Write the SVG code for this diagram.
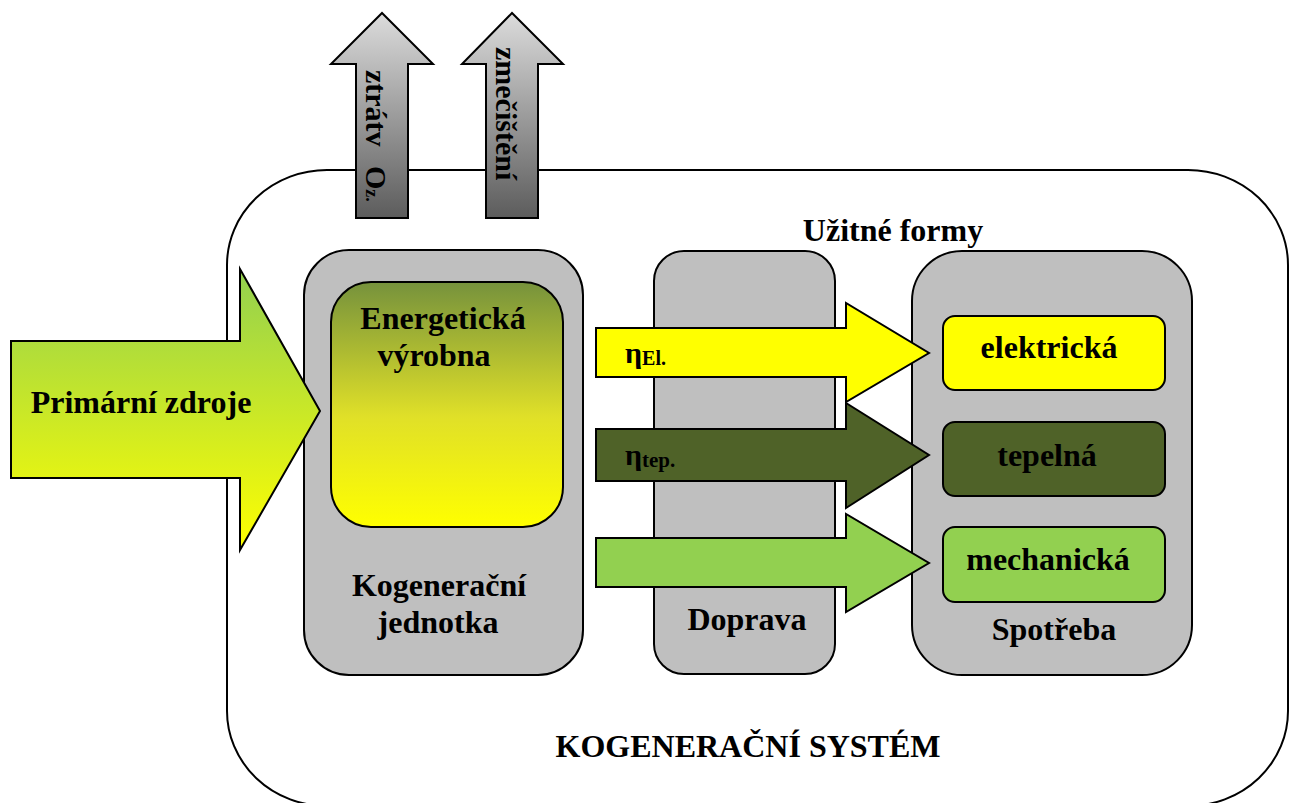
<svg xmlns="http://www.w3.org/2000/svg" width="1294" height="803" viewBox="0 0 1294 803">
  <defs>
    <linearGradient id="gPrimary" x1="0" y1="0" x2="0" y2="1">
      <stop offset="0" stop-color="#92D050"/>
      <stop offset="1" stop-color="#FFFF00"/>
    </linearGradient>
    <linearGradient id="gPlant" x1="0" y1="0" x2="0" y2="1">
      <stop offset="0" stop-color="#76923C"/>
      <stop offset="0.55" stop-color="#E0E028"/>
      <stop offset="1" stop-color="#FFFF00"/>
    </linearGradient>
    <linearGradient id="gLoss" x1="0" y1="0" x2="0" y2="1">
      <stop offset="0" stop-color="#DCDCDC"/>
      <stop offset="1" stop-color="#5C5C5C"/>
    </linearGradient>
    <style>
      .ln { stroke: #000; stroke-width: 2; stroke-linejoin: miter; }
      .box { fill: #BFBFBF; stroke: #000; stroke-width: 2; }
      .t { font-family: "Liberation Serif", "Times New Roman", serif; font-weight: bold; fill: #000; }
      .c { text-anchor: middle; }
      .f31 { font-size: 32px; }
    </style>
  </defs>

  <!-- system boundary -->
  <g id="system">
    <rect x="227" y="170" width="1061" height="636" rx="100" ry="95" fill="#FFFFFF" class="ln"/>
    <text class="t c" x="748" y="757" font-size="32" textLength="385" lengthAdjust="spacingAndGlyphs">KOGENERAČNÍ SYSTÉM</text>
  </g>

  <g id="useful-forms-label">
    <text class="t c f31" x="893" y="241">Užitné formy</text>
  </g>

  <!-- cogeneration unit -->
  <g id="cogen-unit">
    <rect class="box" x="304" y="250" width="279" height="425" rx="45"/>
    <text class="t c f31" x="439" y="596">Kogenerační</text>
    <text class="t c f31" x="438" y="633">jednotka</text>
  </g>

  <g id="energy-plant">
    <rect x="331" y="282" width="232" height="245" rx="40" fill="url(#gPlant)" class="ln"/>
    <text class="t c f31" x="443" y="329">Energetická</text>
    <text class="t c f31" x="434" y="366">výrobna</text>
  </g>

  <!-- transport -->
  <g id="transport">
    <rect class="box" x="654" y="251" width="181" height="423" rx="30"/>
    <text class="t c f31" x="747" y="630">Doprava</text>
  </g>

  <!-- consumption -->
  <g id="consumption">
    <rect class="box" x="912" y="251" width="280" height="424" rx="50"/>
    <text class="t c f31" x="1054" y="640">Spotřeba</text>
  </g>

  <g id="form-electric">
    <rect x="943" y="316" width="222" height="74" rx="12" fill="#FFFF00" class="ln"/>
    <text class="t c f31" x="1049" y="358">elektrická</text>
  </g>

  <g id="form-heat">
    <rect x="943" y="422" width="222" height="74" rx="12" fill="#4F6228" class="ln"/>
    <text class="t c f31" x="1047" y="466">tepelná</text>
  </g>

  <g id="form-mechanical">
    <rect x="943" y="527" width="222" height="75" rx="12" fill="#92D050" class="ln"/>
    <text class="t c f31" x="1048" y="570">mechanická</text>
  </g>

  <!-- flows -->
  <g id="connectors">
    <!-- losses and emissions leaving the system -->
    <path class="ln" fill="url(#gLoss)" d="M356,218 V64 H331 L382,13 L433,64 H408 V218 Z"/>
    <path class="ln" fill="url(#gLoss)" d="M486,218 V64 H462 L512,13 L563,64 H538 V218 Z"/>
    <text class="t" font-size="30" transform="translate(366,70) rotate(90)">ztrátv<tspan x="96">O</tspan><tspan font-size="18">z.</tspan></text>
    <text class="t" font-size="30" transform="translate(496,47) rotate(90)">zmečištění</text>

    <!-- primary energy input -->
    <path class="ln" fill="url(#gPrimary)" d="M11,341 H240 V269 L320,411 L240,550 V478 H11 Z"/>
    <text class="t c f31" x="141" y="413">Primární zdroje</text>

    <!-- electricity -->
    <path class="ln" fill="#FFFF00" d="M596,328 H846 V303 L929,353 L846,402 V377 H596 Z"/>
    <text class="t" x="625" y="363"><tspan font-size="30">η</tspan><tspan font-size="20" dy="2">El.</tspan></text>

    <!-- heat -->
    <path class="ln" fill="#4F6228" d="M596,429 H846 V403 L929,455 L846,508 V481 H596 Z"/>
    <text class="t" x="625" y="465"><tspan font-size="30">η</tspan><tspan font-size="21" dy="2">tep.</tspan></text>

    <!-- mechanical -->
    <path class="ln" fill="#92D050" d="M596,538 H846 V514 L929,563 L846,612 V587 H596 Z"/>
  </g>
</svg>
